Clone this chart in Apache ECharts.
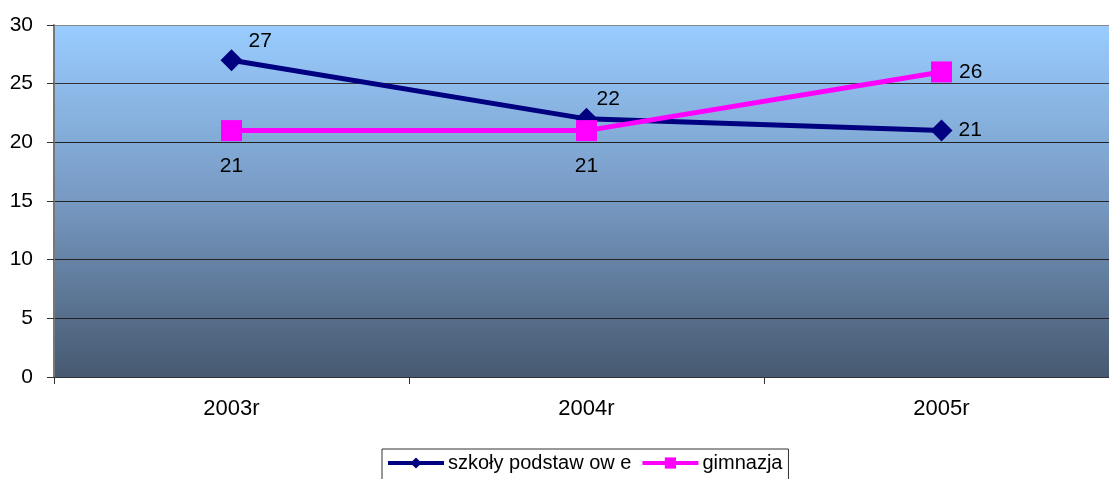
<!DOCTYPE html>
<html><head><meta charset="utf-8">
<script src="https://cdn.jsdelivr.net/npm/echarts@6/dist/echarts.min.js"></script>
<style>html,body{margin:0;padding:0;background:#fff}#c{width:1109px;height:479px}</style>
</head><body><div id="c"></div>
<script>
var categories = ['2003r', '2004r', '2005r'];
var szkolyPodstawowe = [27, 22, 21];
var gimnazja = [21, 21, 26];
var seriesNames = ['szkoły podstaw ow e', 'gimnazja'];
var yTicks = [0, 5, 10, 15, 20, 25, 30];

var chart = echarts.init(document.getElementById('c'));
var font = 'Liberation Sans, Arial, sans-serif';
chart.setOption({
  animation: false,
  grid: { left: 54, width: 1065, top: 25, height: 352, show: true,
    outerBoundsMode: 'none', containLabel: false,
    backgroundColor: { type: 'linear', x: 0, y: 0, x2: 0, y2: 1,
      colorStops: [{ offset: 0, color: '#99ccff' }, { offset: 0.5, color: '#7799c2' }, { offset: 1, color: '#465970' }] },
    borderWidth: 0 },
  legend: {
    top: 449, left: 382,
    itemWidth: 56, itemHeight: 14, itemGap: 9,
    padding: [4, 6, 10, 4],
    borderColor: '#333', borderWidth: 1,
    lineStyle: { width: 4 },
    textStyle: { fontFamily: font, fontSize: 20, color: '#000', padding: [0, 0, 0, -1] },
    data: seriesNames
  },
  xAxis: {
    type: 'category', data: categories, boundaryGap: true,
    axisLine: { lineStyle: { color: '#333', width: 1 } },
    axisTick: { show: true, length: 7, lineStyle: { color: '#333' } },
    axisLabel: { fontFamily: font, fontSize: 22, color: '#000', margin: 21 }
  },
  yAxis: {
    type: 'value', min: yTicks[0], max: yTicks[yTicks.length - 1], interval: 5,
    axisLine: { show: true, lineStyle: { color: '#777', width: 2 } },
    axisTick: { show: true, length: 7, inside: false, lineStyle: { color: '#333' } },
    axisLabel: { fontFamily: font, fontSize: 21, color: '#000', margin: 21 },
    splitLine: { lineStyle: { color: ['#222', '#222', '#222', '#222', '#222', '#333', '#888'], width: 1 } }
  },
  series: [
    {
      name: seriesNames[0], type: 'line',
      data: szkolyPodstawowe.map(function (v, i) {
        var pos = [[28, -18], [21, -19], 'right'][i];
        return { value: v, label: { position: pos, distance: 6 } };
      }),
      symbol: 'diamond', symbolSize: 22,
      lineStyle: { color: '#000080', width: 5 },
      itemStyle: { color: '#000080' },
      label: { show: true, fontFamily: font, fontSize: 21, color: '#000' }
    },
    {
      name: seriesNames[1], type: 'line',
      data: gimnazja.map(function (v, i) {
        return i === 2 ? { value: v, label: { position: 'right', distance: 7 } } : { value: v };
      }),
      symbol: 'rect', symbolSize: 21,
      lineStyle: { color: '#ff00ff', width: 5 },
      itemStyle: { color: '#ff00ff' },
      label: { show: true, fontFamily: font, fontSize: 21, color: '#000', position: 'bottom', distance: 15 }
    }
  ]
});
</script></body></html>
